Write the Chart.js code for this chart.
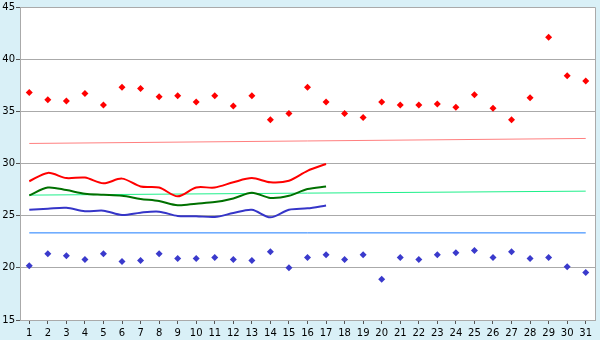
<!DOCTYPE html>
<html>
<head>
<meta charset="utf-8">
<script src="https://cdn.jsdelivr.net/npm/chart.js@4.4.1/dist/chart.umd.min.js"></script>
<style>
  html, body { margin: 0; padding: 0; background: #d9f0f7; }
  #wrap { width: 600px; height: 340px; }
</style>
</head>
<body>
<div id="wrap"><canvas id="chart" width="600" height="340"></canvas></div>
<script>
// days of the month
const days = [1,2,3,4,5,6,7,8,9,10,11,12,13,14,15,16,17,18,19,20,21,22,23,24,25,26,27,28,29,30,31];

// upper red diamonds
const highs = [36.8,36.1,36.0,36.7,35.6,37.3,37.2,36.4,36.5,35.9,36.5,35.5,36.5,34.2,34.8,37.3,35.9,
               34.8,34.4,35.9,35.6,35.6,35.7,35.4,36.6,35.3,34.2,36.3,42.1,38.4,37.9];
// lower blue diamonds
const lows = [20.2,21.35,21.15,20.8,21.35,20.6,20.7,21.35,20.9,20.9,21.0,20.8,20.7,21.55,20.0,21.0,21.25,
              20.8,21.25,18.9,21.0,20.8,21.25,21.45,21.65,21.0,21.55,20.9,21.0,20.1,19.55];

// smoothed lines, days 1-17
const redLine = [28.3,29.1,28.6,28.65,28.1,28.55,27.8,27.7,26.85,27.7,27.7,28.2,28.6,28.2,28.35,29.3,29.95];
const greenLine = [26.95,27.7,27.45,27.1,27.0,26.9,26.6,26.4,26.0,26.15,26.3,26.65,27.2,26.7,26.9,27.55,27.8];
const blueLine = [25.57,25.67,25.76,25.42,25.48,25.06,25.29,25.38,24.97,24.95,24.87,25.25,25.57,24.84,25.57,25.7,25.98];

// reference lines (start day 1, end day 31)
const refDays = [1, 31];
const refRed = [31.92, 32.4];
const refGreen = [26.97, 27.35];
const refBlue = [23.35, 23.35];

const yTicks = [15, 20, 25, 30, 35, 40, 45];

function pts(xs, ys) {
    return ys.map((v, i) => ({ x: xs[i], y: v }));
}

const plotBg = {
    id: "plotBg",
    beforeDraw(chart) {
        const a = chart.chartArea, c = chart.ctx;
        c.save();
        c.fillStyle = "#ffffff";
        c.fillRect(a.left, a.top, a.right - a.left, a.bottom - a.top);
        c.restore();
    },
    afterDatasetsDraw(chart) {
        const a = chart.chartArea, c = chart.ctx;
        c.save();
        c.strokeStyle = "#aaaaaa";
        c.lineWidth = 1;
        c.beginPath();
        c.moveTo(a.left, a.top + 0.5);
        c.lineTo(a.right + 0.5, a.top + 0.5);
        c.lineTo(a.right + 0.5, a.bottom);
        c.stroke();
        c.restore();
    }
};

const ctx = document.getElementById("chart").getContext("2d");

new Chart(ctx, {
    type: "line",
    data: {
        datasets: [
            { data: pts(days, highs), showLine: false, pointStyle: "rectRot", pointRadius: 3.5,
              backgroundColor: "#ff0000", borderColor: "#ff0000", borderWidth: 0, order: 1 },
            { data: pts(days, lows), showLine: false, pointStyle: "rectRot", pointRadius: 3.5,
              backgroundColor: "#3a3acc", borderColor: "#3a3acc", borderWidth: 0, order: 1 },
            { data: pts(days, redLine), borderColor: "#ff0000", borderWidth: 2, tension: 0.3,
              pointRadius: 0, order: 2 },
            { data: pts(days, greenLine), borderColor: "#007000", borderWidth: 2, tension: 0.3,
              pointRadius: 0, order: 2 },
            { data: pts(days, blueLine), borderColor: "#3535c8", borderWidth: 2, tension: 0.3,
              pointRadius: 0, order: 2 },
            { data: pts(refDays, refRed), borderColor: "#ff8080", borderWidth: 1, pointRadius: 0, order: 3 },
            { data: pts(refDays, refGreen), borderColor: "#1ef08a", borderWidth: 1, pointRadius: 0, order: 3 },
            { data: pts(refDays, refBlue), borderColor: "#1a7cff", borderWidth: 1, pointRadius: 0, order: 3 }
        ]
    },
    options: {
        responsive: false,
        animation: false,
        layout: { padding: { top: 5, right: 5, left: 0, bottom: 0 } },
        plugins: { legend: { display: false }, tooltip: { enabled: false } },
        scales: {
            x: {
                type: "linear",
                min: 0.5,
                max: 31.5,
                afterBuildTicks: (s) => { s.ticks = days.map(d => ({ value: d })); },
                afterFit: (s) => { s.height = 20; },
                grid: { drawOnChartArea: false, drawTicks: true, tickLength: 4, color: "#555555" },
                border: { color: "#aaaaaa" },
                ticks: { color: "#000", font: { family: "DejaVu Sans", size: 10 }, padding: 3,
                         maxRotation: 0, autoSkip: false }
            },
            y: {
                min: 15,
                max: 45,
                afterBuildTicks: (s) => { s.ticks = yTicks.map(v => ({ value: v })); },
                afterFit: (s) => { s.width = 20; },
                grid: { color: "#aaaaaa", tickLength: 4, tickColor: "#555555" },
                border: { color: "#aaaaaa" },
                ticks: { color: "#000", font: { family: "DejaVu Sans", size: 10 }, padding: 1 }
            }
        }
    },
    plugins: [plotBg]
});
</script>
</body>
</html>
